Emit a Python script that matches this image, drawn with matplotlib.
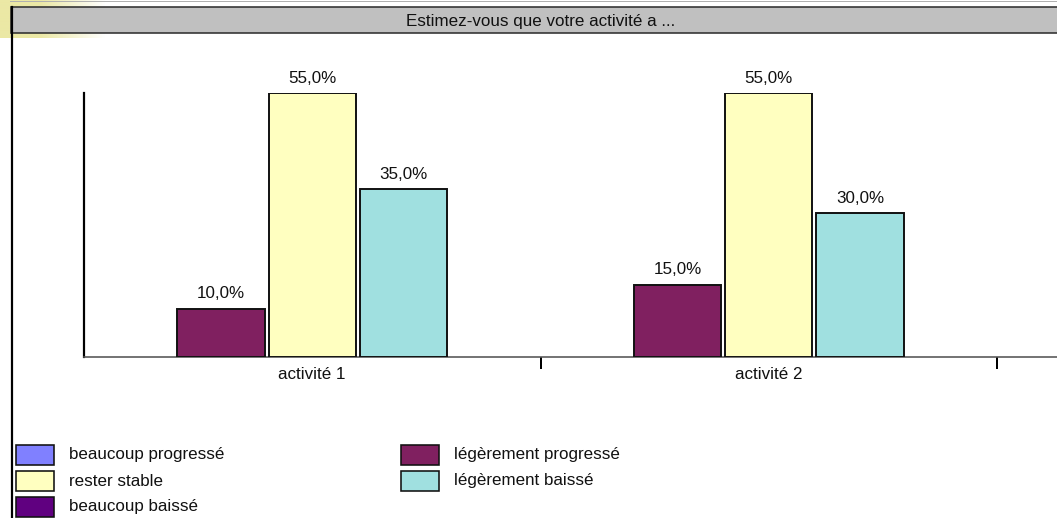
import numpy as np
import matplotlib
matplotlib.use("Agg")
import matplotlib.pyplot as plt
from matplotlib.patches import Rectangle
from matplotlib.lines import Line2D

plt.rcParams['font.family'] = ['Liberation Sans', 'DejaVu Sans']

# ---- data ----
title = "Estimez-vous que votre activité a ..."
categories = ["activité 1", "activité 2"]
series_names = ["beaucoup progressé", "légèrement progressé", "rester stable",
                "légèrement baissé", "beaucoup baissé"]
series_colors = ["#8080ff", "#802060", "#ffffc0", "#a0e0e0", "#600080"]
values = {
    "beaucoup progressé": [0, 0],
    "légèrement progressé": [10, 15],
    "rester stable": [55, 55],
    "légèrement baissé": [35, 30],
    "beaucoup baissé": [0, 0],
}

W, H = 1057, 518
DPI = 100
FS = 17 * 72 / DPI  # ~17 px font

def fx(x):
    return x / W

def fy(y):
    return 1 - y / H

fig = plt.figure(figsize=(W / DPI, H / DPI), dpi=DPI)
fig.patch.set_facecolor("white")

# yellow gradient in the top-left corner
gx0, gx1, gy1 = 0, 110, 38
bg = fig.add_axes([fx(gx0), fy(gy1), fx(gx1 - gx0), gy1 / H], zorder=-5)
cols = np.arange(gx1 - gx0)
alpha = np.clip((105 - cols) / (105 - 40), 0, 1)
img = np.zeros((1, len(cols), 4))
img[..., 0] = 0xEB / 255
img[..., 1] = 0xE8 / 255
img[..., 2] = 0xA5 / 255
img[..., 3] = alpha
bg.imshow(img, aspect="auto", extent=(0, 1, 0, 1), interpolation="bilinear")
bg.set_axis_off()

# top light grey line
fig.add_artist(Line2D([fx(10), 1.0], [fy(0.5), fy(0.5)], color="#b0b0b0",
                      lw=1.0 * 72 / DPI, transform=fig.transFigure))

# title bar
fig.add_artist(Rectangle((fx(11), fy(32.7)), 1.1, (32.7 - 7.3) / H,
                         facecolor="#c0c0c0", edgecolor="#303030",
                         lw=1.6 * 72 / DPI, transform=fig.transFigure, zorder=3))
fig.text(fx(541), fy(25.7), title, ha="center", va="baseline", fontsize=FS,
         color="#111111", zorder=4)

# outer frame left line
fig.add_artist(Line2D([fx(12), fx(12)], [fy(7), fy(530)], color="black",
                      lw=2.2 * 72 / DPI, transform=fig.transFigure, zorder=4))

# ---- main axes ----
x_left, x_base, y_top = 84, 356.7, 93.3
cat_w = 456.5
ax = fig.add_axes([fx(x_left), fy(x_base), 1 - fx(x_left), (x_base - y_top) / H])
ax.set_facecolor("none")
x = np.arange(len(categories))
n = len(series_names)
slot = 1.0 / n
bw = slot * 0.955
for k, name in enumerate(series_names):
    vals = values[name]
    off = (k - (n - 1) / 2) * slot
    lws = [1.4 if v > 0 else 0 for v in vals]
    bars = ax.bar(x + off, vals, width=bw, color=series_colors[k],
                  edgecolor="#111111", linewidth=lws, zorder=3)
    for xi, v in zip(x, vals):
        if v > 0:
            ax.annotate(f"{v:.1f}%".replace(".", ","), xy=(xi + off, v),
                        xytext=(0, 7.5), textcoords="offset points",
                        ha="center", va="baseline", fontsize=FS, color="#111111",
                        annotation_clip=False)

ax.set_xlim(-0.5, -0.5 + (W - x_left) / cat_w)
ax.set_ylim(0, 55)
ax.set_yticks([])
ax.set_xticks(x, categories)
ax.tick_params(axis="x", which="major", length=0, pad=7.4, labelsize=FS,
               labelcolor="#111111")
ax.set_xticks([0.5, 1.5], minor=True)
ax.tick_params(axis="x", which="minor", length=12 * 72 / DPI, width=2 * 72 / DPI,
               color="black", direction="out")
for s in ["top", "right"]:
    ax.spines[s].set_visible(False)
ax.spines["left"].set_color("black")
ax.spines["left"].set_linewidth(2.2 * 72 / DPI)
ax.spines["bottom"].set_color("#555555")
ax.spines["bottom"].set_linewidth(1.6 * 72 / DPI)

# ---- legend (manual, two columns) ----
legend_layout = [
    ("beaucoup progressé", 16, 455),
    ("rester stable", 16, 481),
    ("beaucoup baissé", 16, 507),
    ("légèrement progressé", 401, 455),
    ("légèrement baissé", 401, 481),
]
sq_w, sq_h = 38, 20
for name, lx, ly in legend_layout:
    c = series_colors[series_names.index(name)]
    fig.add_artist(Rectangle((fx(lx), fy(ly + sq_h / 2)), sq_w / W, sq_h / H,
                             facecolor=c, edgecolor="#111111", lw=1.6 * 72 / DPI,
                             transform=fig.transFigure))
    fig.text(fx(lx + sq_w + 15), fy(ly), name, ha="left", va="center",
             fontsize=FS, color="#111111")

fig.savefig("out.png", dpi=DPI)
